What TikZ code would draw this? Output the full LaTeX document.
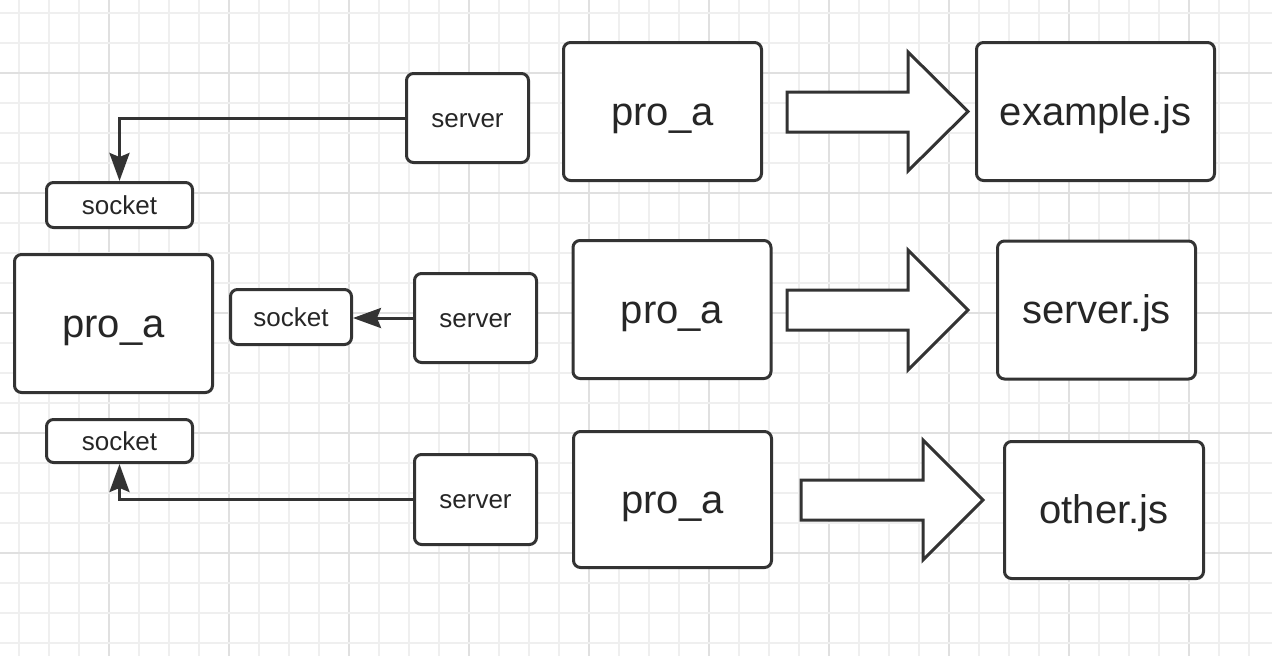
\documentclass[tikz,border=0pt]{standalone}
\usepackage{fontspec}
\setmainfont{Liberation Sans}
\usetikzlibrary{arrows.meta}
\definecolor{strk}{HTML}{333333}
\definecolor{txt}{HTML}{262626}
\definecolor{gridminor}{HTML}{EFEFEF}
\definecolor{gridmajor}{HTML}{E0E0E0}
\tikzset{
  box/.style={draw=strk, line width=3pt, rounded corners=7pt, fill=white, inner sep=0pt, text=txt},
  bigbox/.style={box, minimum width=198pt, minimum height=138pt, font=\fontsize{40}{48}\selectfont, text height=36.2pt, text depth=8.5pt},
  smallbox/.style={box, minimum width=122pt, minimum height=89pt, font=\fontsize{26}{31}\selectfont, text height=23.5pt, text depth=5.5pt},
  sockbox/.style={box, font=\fontsize{26}{31}\selectfont, text height=23.5pt, text depth=5.5pt},
  conn/.style={draw=strk, line width=3pt, -{Stealth[length=28pt,width=20pt,inset=4pt]}},
  blockarrow/.style={draw=strk, line width=3pt, fill=white, line join=miter},
}
\begin{document}
\begin{tikzpicture}[x=1pt,y=-1pt]
\useasboundingbox (0,0) rectangle (1272,656);
\fill[white] (0,0) rectangle (1272,656);
% grid
\foreach \k in {0,...,42} {
  \pgfmathtruncatemacro{\m}{mod(\k,4)}
  \ifnum\m=3
    \draw[gridmajor, line width=1.3pt] ({19+30*\k},0) -- ({19+30*\k},656);
  \else
    \draw[gridminor, line width=1.2pt] ({19+30*\k},0) -- ({19+30*\k},656);
  \fi
}
\foreach \k in {0,...,21} {
  \pgfmathtruncatemacro{\m}{mod(\k,4)}
  \ifnum\m=2
    \draw[gridmajor, line width=1.3pt] (0,{13+30*\k}) -- (1272,{13+30*\k});
  \else
    \draw[gridminor, line width=1.2pt] (0,{13+30*\k}) -- (1272,{13+30*\k});
  \fi
}

% row 1
\node[smallbox] (server1) at (467.5,118) {server};
\node[bigbox] (proa1) at (662.5,111.5) {pro\_a};
\node[bigbox, minimum width=238pt] (example) at (1095.5,111.5) {example.js};
\node[sockbox, minimum width=146pt, minimum height=45pt] (socket1) at (119.5,205) {socket};

% row 2
\node[bigbox] (proaL) at (113.5,323.5) {pro\_a};
\node[sockbox, minimum width=121pt, minimum height=55pt] (socket2) at (291,317) {socket};
\node[smallbox] (server2) at (475.5,318) {server};
\node[bigbox] (proa2) at (672,309.5) {pro\_a};
\node[bigbox] (serverjs) at (1096.5,310) {server.js};

% row 3
\node[sockbox, minimum width=146pt, minimum height=43pt] (socket3) at (119.5,441) {socket};
\node[smallbox, minimum height=90pt] (server3) at (475.5,499.5) {server};
\node[bigbox, minimum height=136pt] (proa3) at (672.5,499.5) {pro\_a};
\node[bigbox, minimum width=199pt, minimum height=137pt] (otherjs) at (1104,510) {other.js};

% connectors
\draw[conn] (server1.west) -| (socket1.north);
\draw[conn] (server2.west) -- (server2.west -| socket2.east);
\draw[conn] (server3.west) -| (socket3.south);

% block arrows
\draw[blockarrow] (787,92) -- (908,92) -- (908,52) -- (968,111.5) -- (908,171) -- (908,132) -- (787,132) -- cycle;
\draw[blockarrow] (787,290) -- (908,290) -- (908,250) -- (968,310) -- (908,370) -- (908,330) -- (787,330) -- cycle;
\draw[blockarrow] (801,480) -- (923,480) -- (923,440) -- (983,500) -- (923,560) -- (923,520) -- (801,520) -- cycle;
\end{tikzpicture}
\end{document}
